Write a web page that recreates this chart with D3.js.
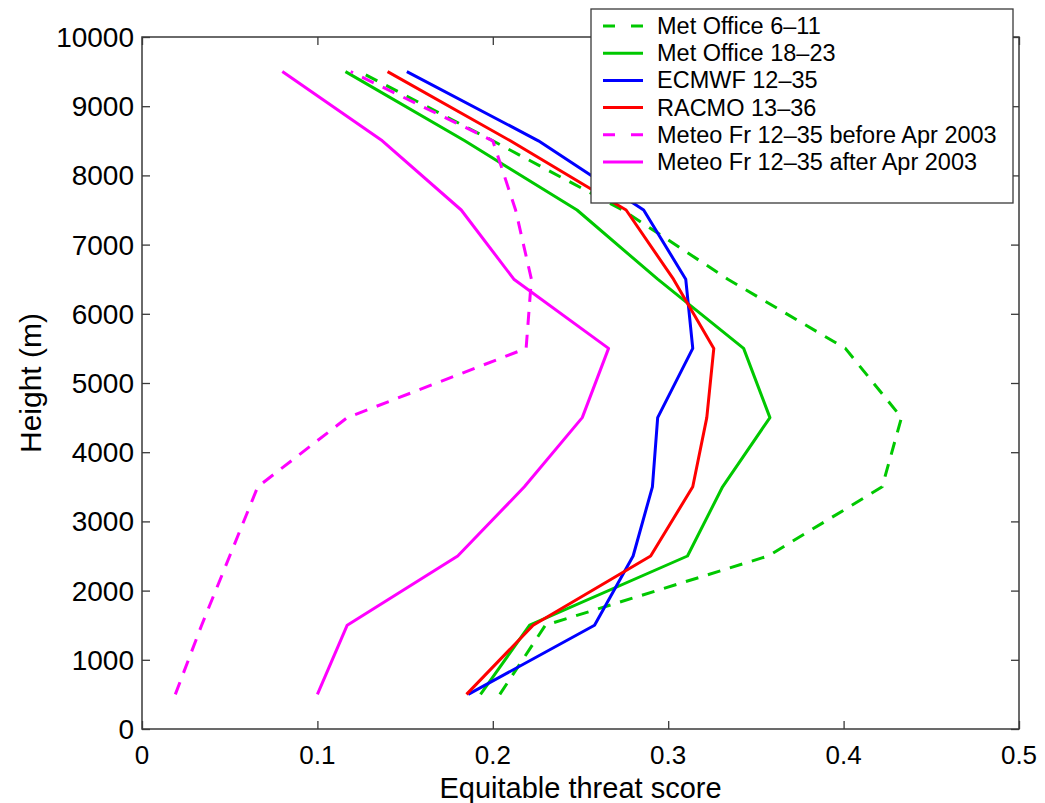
<!DOCTYPE html>
<html>
<head>
<meta charset="utf-8">
<script src="https://cdn.jsdelivr.net/npm/d3@7"></script>
<style>
  html, body { margin: 0; padding: 0; background: #fff; }
  svg { display: block; font-family: "Liberation Sans", Arial, Helvetica, sans-serif; }
</style>
</head>
<body>
<svg id="chart" width="1045" height="803"></svg>
<script>
// Heights (m) at which each score profile is sampled
const heights = [500, 1500, 2500, 3500, 4500, 5500, 6500, 7500, 8500, 9500];

// Equitable threat score per height, one array per model
const metOffice6_11  = [0.204, 0.230, 0.357, 0.422, 0.433, 0.401, 0.334, 0.274, 0.200, 0.124];
const metOffice18_23 = [0.193, 0.221, 0.311, 0.331, 0.358, 0.343, 0.294, 0.248, 0.184, 0.116];
const ecmwf12_35     = [0.186, 0.258, 0.280, 0.291, 0.294, 0.314, 0.310, 0.286, 0.226, 0.151];
const racmo13_36     = [0.185, 0.223, 0.290, 0.314, 0.322, 0.326, 0.303, 0.276, 0.210, 0.140];
const meteoFrBefore  = [0.019, 0.034, 0.050, 0.066, 0.117, 0.219, 0.222, 0.213, 0.200, 0.119];
const meteoFrAfter   = [0.100, 0.117, 0.180, 0.218, 0.251, 0.266, 0.212, 0.182, 0.137, 0.080];

// Series labels and axis ticks
const seriesNames = [
  "Met Office 6\u201311",
  "Met Office 18\u201323",
  "ECMWF 12\u201335",
  "RACMO 13\u201336",
  "Meteo Fr 12\u201335 before Apr 2003",
  "Meteo Fr 12\u201335 after Apr 2003"
];
const xTicks = [0, 0.1, 0.2, 0.3, 0.4, 0.5];
const yTicks = [0, 1000, 2000, 3000, 4000, 5000, 6000, 7000, 8000, 9000, 10000];

const seriesValues = [metOffice6_11, metOffice18_23, ecmwf12_35, racmo13_36, meteoFrBefore, meteoFrAfter];
const seriesColors = ["#00c800", "#00c800", "#0000ff", "#ff0000", "#ff00ff", "#ff00ff"];
const seriesDashed = [true, false, false, false, true, false];

const series = seriesNames.map((name, i) => ({
  name,
  color: seriesColors[i],
  dashed: seriesDashed[i],
  points: heights.map((h, j) => ({ h, v: seriesValues[i][j] }))
}));

const svg = d3.select("#chart");
const plot = { left: 142, right: 1019, top: 37, bottom: 729 };

const x = d3.scaleLinear().domain([0, 0.5]).range([plot.left, plot.right]);
const y = d3.scaleLinear().domain([0, 10000]).range([plot.bottom, plot.top]);

const axisColor = "#3a3a3a";
const tickLen = 8;

// Plot frame
svg.append("rect")
  .attr("x", plot.left).attr("y", plot.top)
  .attr("width", plot.right - plot.left).attr("height", plot.bottom - plot.top)
  .attr("fill", "#fff").attr("stroke", axisColor).attr("stroke-width", 1.5);

// Inward ticks on all four sides
function styleAxis(g) {
  g.select(".domain").remove();
  g.selectAll(".tick line").attr("stroke", axisColor).attr("stroke-width", 1.3);
}
svg.append("g").attr("transform", `translate(0,${plot.bottom})`)
  .call(d3.axisBottom(x).tickValues(xTicks).tickSize(-tickLen).tickFormat(""))
  .call(styleAxis);
svg.append("g").attr("transform", `translate(0,${plot.top})`)
  .call(d3.axisTop(x).tickValues(xTicks).tickSize(-tickLen).tickFormat(""))
  .call(styleAxis);
svg.append("g").attr("transform", `translate(${plot.left},0)`)
  .call(d3.axisLeft(y).tickValues(yTicks).tickSize(-tickLen).tickFormat(""))
  .call(styleAxis);
svg.append("g").attr("transform", `translate(${plot.right},0)`)
  .call(d3.axisRight(y).tickValues(yTicks).tickSize(-tickLen).tickFormat(""))
  .call(styleAxis);

// Tick labels
svg.append("g").selectAll("text").data(xTicks).join("text")
  .attr("x", d => x(d)).attr("y", 764)
  .attr("text-anchor", "middle")
  .attr("font-size", 26).attr("fill", "#000")
  .text(d => d3.format("")(d));
svg.append("g").selectAll("text").data(yTicks).join("text")
  .attr("x", 134).attr("y", d => y(d) + 10)
  .attr("text-anchor", "end")
  .attr("font-size", 28).attr("fill", "#000")
  .text(d => d);

// Axis titles
svg.append("text")
  .attr("x", (plot.left + plot.right) / 2).attr("y", 798)
  .attr("text-anchor", "middle").attr("font-size", 29).attr("fill", "#000")
  .text("Equitable threat score");
svg.append("text")
  .attr("transform", `translate(41,${(plot.top + plot.bottom) / 2}) rotate(-90)`)
  .attr("text-anchor", "middle").attr("font-size", 30).attr("fill", "#000")
  .text("Height (m)");

// Profiles
const line = d3.line().x(d => x(d.v)).y(d => y(d.h));
svg.append("g").selectAll("path").data(series).join("path")
  .attr("d", d => line(d.points))
  .attr("fill", "none")
  .attr("stroke", d => d.color)
  .attr("stroke-width", 3)
  .attr("stroke-linejoin", "round")
  .attr("stroke-dasharray", d => d.dashed ? "13,10" : null);

// Legend
const legend = svg.append("g");
legend.append("rect")
  .attr("x", 591).attr("y", 9).attr("width", 422).attr("height", 194)
  .attr("fill", "#fff").attr("stroke", axisColor).attr("stroke-width", 1.3);
const rowY = d3.scalePoint().domain(seriesNames).range([26, 162]);
const rows = legend.selectAll("g.row").data(series).join("g")
  .attr("class", "row")
  .attr("transform", d => `translate(0,${rowY(d.name)})`);
rows.append("line")
  .attr("x1", 603).attr("x2", 643).attr("y1", 0).attr("y2", 0)
  .attr("stroke", d => d.color).attr("stroke-width", 3)
  .attr("stroke-dasharray", d => d.dashed ? "12,16" : null);
rows.append("text")
  .attr("x", 657).attr("y", 8)
  .attr("font-size", 23.5).attr("fill", "#000")
  .text(d => d.name);
</script>
</body>
</html>
